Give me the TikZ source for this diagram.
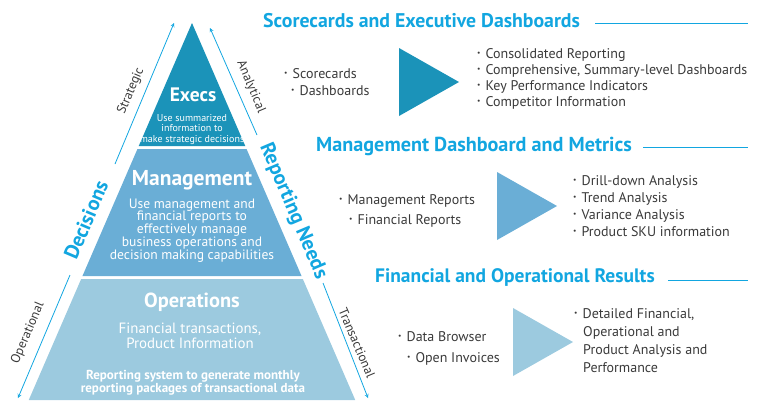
\documentclass[tikz,border=0pt]{standalone}
\usepackage{fontspec}
\setmainfont{PT Sans}
\usetikzlibrary{calc}

\definecolor{execblue}{HTML}{1B93B9}
\definecolor{mgmtblue}{HTML}{6AAED6}
\definecolor{opsblue}{HTML}{9CCADF}
\definecolor{headcyan}{HTML}{12A6E0}
\definecolor{bodygray}{HTML}{3A3A3A}

\newcommand{\dotitem}{\raisebox{2.4pt}{\fontsize{7.5}{7.5}\selectfont\textbullet}\hspace{5pt}}

\tikzset{
	tier name/.style = {text=white, inner sep=0pt, anchor=base, font=\bfseries\fontsize{19.5}{20}\selectfont},
	tier text/.style = {text=white, inner sep=0pt, anchor=base, align=center},
	side label/.style = {text=bodygray, inner sep=0pt, font=\fontsize{13}{15}\selectfont},
	side head/.style = {text=headcyan, inner sep=0pt, font=\bfseries\fontsize{20.5}{22}\selectfont},
	side arrow/.style = {headcyan, line width=0.8pt, -stealth},
	section head/.style = {text=headcyan, inner sep=0pt, anchor=base west, font=\bfseries\fontsize{19.8}{22}\selectfont},
	section rule/.style = {headcyan, line width=0.9pt},
	list item/.style = {text=bodygray, inner sep=0pt, anchor=base west, font=\fontsize{14}{16}\selectfont}
}

\begin{document}
\begin{tikzpicture}[x = 1pt, y = -1pt]
	\useasboundingbox (0,0) rectangle (757,400);
	\def\k{0.433}

	% pyramid bands
	\fill[execblue] (192,23) -- ({192-\k*123},146) -- ({192+\k*123},146) -- cycle;
	\fill[mgmtblue] ({192-\k*126},149) -- ({192+\k*126},149) -- ({192+\k*253},276) -- ({192-\k*253},276) -- cycle;
	\fill[opsblue] ({192-\k*256},279) -- ({192+\k*256},279) -- ({192+\k*377},400) -- ({192-\k*377},400) -- cycle;

	% tier texts (base = last line)
	\node[tier name] (execs) at (193,101) {Execs};
	\node[tier text, font=\fontsize{10}{10.2}\selectfont] (execsinfo) at (192,142)
		{Use summarized\\information to\\make strategic decisions};

	\node[tier name, font=\bfseries\fontsize{21.5}{22}\selectfont] (mgmt) at (192,185) {Management};
	\node[tier text, font=\fontsize{13.6}{12.7}\selectfont] (mgmtinfo) at (192,259)
		{Use management and\\financial reports to\\effectively manage\\business operations and\\decision making capabilities};

	\node[tier name, font=\bfseries\fontsize{20.4}{22}\selectfont] (ops) at (192,307) {Operations};
	\node[tier text, font=\fontsize{14.9}{14.4}\selectfont] (opsinfo) at (190,348)
		{Financial transactions,\\Product Information};
	\node[tier text, font=\bfseries\fontsize{13}{11}\selectfont] (opsnote) at (193,392)
		{Reporting system to generate monthly\\reporting packages of transactional data};

	% arrows along the sides
	\coordinate (strat-lo) at (115,164);
	\coordinate (strat-hi) at (174,23);
	\coordinate (oper-hi) at (70,275);
	\coordinate (oper-lo) at (18,398);
	\coordinate (anal-lo) at (257,135);
	\coordinate (anal-hi) at (210,28);
	\coordinate (trans-hi) at (323,283);
	\coordinate (trans-lo) at (368,398);

	\begin{scope}[side arrow]
		\draw (strat-lo) -- (strat-hi);
		\draw (oper-hi) -- (oper-lo);
		\draw (anal-lo) -- (anal-hi);
		\draw (trans-hi) -- (trans-lo);
	\end{scope}

	\node[side label, rotate=67] (strategic) at (131,91) {Strategic};
	\node[side label, rotate=-67] (analytical) at (251,87) {Analytical};
	\node[side label, rotate=67] (operational) at (28,333) {Operational};
	\node[side label, rotate=-67] (transactional) at (357,343) {Transactional};
	\node[side head, rotate=67] (decisions) at (86,220) {Decisions};
	\node[side head, rotate=-67] (repneeds) at (293,211) {Reporting Needs};

	% the three result rows
	\node[section head] (head1) at (263,27) {Scorecards and Executive Dashboards};
	\draw[section rule] (595,23) -- (748,23);
	\node[section head, font=\bfseries\fontsize{20.2}{22}\selectfont] (head2) at (316,151) {Management Dashboard and Metrics};
	\draw[section rule] (643,147) -- (748,147);
	\node[section head, font=\bfseries\fontsize{19.5}{22}\selectfont] (head3) at (375,282) {Financial and Operational Results};
	\draw[section rule] (668,280) -- (748,280);

	\foreach \x/\y/\c in {399/82/execblue, 497/206/mgmtblue, 513/342/opsblue}
		\fill[\c] (\x,{\y-34}) -- ++(60,34) -- ++(-60,34) -- cycle;

	\node[list item] (in1a) at (284,78) {\dotitem Scorecards};
	\node[list item] (in1b) at (291,95) {\dotitem Dashboards};
	\node[list item] (in2a) at (339,204) {\dotitem Management Reports};
	\node[list item] (in2b) at (349,224) {\dotitem Financial Reports};
	\node[list item] (in3a) at (398,341) {\dotitem Data Browser};
	\node[list item] (in3b) at (407,362) {\dotitem Open Invoices};

	\foreach \txt [count=\i] in {Consolidated Reporting, {Comprehensive, Summary-level Dashboards}, Key Performance Indicators, Competitor Information}
		\node[list item] (out1\i) at (477,{58+16*(\i-1)}) {\dotitem\txt};

	\foreach \txt [count=\i] in {Drill-down Analysis, Trend Analysis, Variance Analysis, Product SKU information}
		\node[list item] (out2\i) at (573,{185+17*(\i-1)}) {\dotitem\txt};

	\node[list item] (out3) at (574,318) {\dotitem Detailed Financial,};
	\foreach \txt [count=\i] in {Operational and, Product Analysis and, Performance}
		\node[list item] (out3\i) at (583,{318+18*\i}) {\txt};
\end{tikzpicture}
\end{document}
